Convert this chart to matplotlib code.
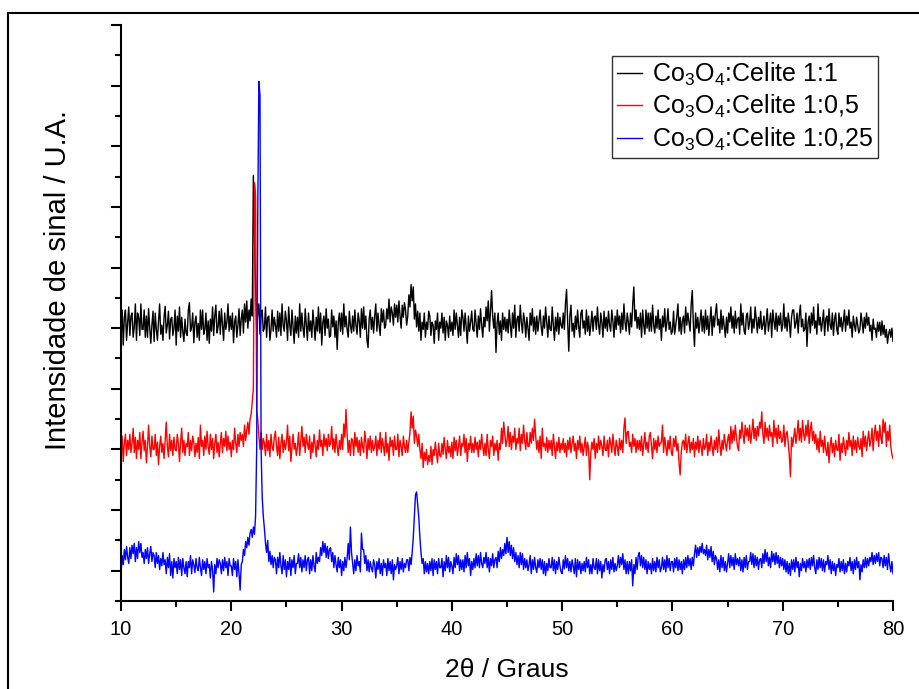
import matplotlib
matplotlib.use('Agg')
import matplotlib.pyplot as plt
from matplotlib.patches import Rectangle
from matplotlib.ticker import MultipleLocator
import numpy as np

plt.rcParams['font.family'] = ['Liberation Sans', 'DejaVu Sans']
plt.rcParams['mathtext.fontset'] = 'custom'
plt.rcParams['mathtext.rm'] = 'Liberation Sans'

# scan: 10 -> 80 degrees, step 0.1
start, stop, step = 10.0, 80.0, 0.1
two_theta = np.linspace(start, stop, int(round((stop - start) / step)) + 1)

# intensities (arbitrary units x100, curves already stacked)
# one row = one degree (10 points)
black = [
    395, 430, 372, 418, 430, 380, 410, 435, 388, 420,
    425, 385, 402, 440, 380, 425, 418, 388, 440, 398,
    398, 430, 385, 420, 385, 432, 400, 375, 405, 428,
    378, 425, 398, 380, 412, 440, 390, 405, 380, 418,
    436, 392, 405, 428, 382, 415, 418, 388, 400, 430,
    372, 420, 395, 435, 385, 418, 395, 378, 415, 392,
    388, 430, 442, 395, 402, 425, 376, 410, 420, 385,
    408, 380, 430, 398, 430, 390, 398, 425, 380, 412,
    375, 415, 395, 435, 388, 420, 438, 392, 402, 428,
    390, 432, 405, 380, 425, 398, 410, 440, 395, 420,
    398, 425, 376, 410, 420, 385, 405, 432, 388, 415,
    430, 392, 440, 410, 445, 400, 430, 412, 448, 420,
    652, 545, 470, 398, 425, 440, 390, 422, 430, 395,
    400, 435, 385, 418, 420, 380, 398, 430, 395, 418,
    405, 385, 428, 395, 425, 388, 440, 405, 395, 428,
    412, 380, 435, 405, 388, 430, 402, 375, 420, 392,
    418, 385, 440, 395, 425, 400, 385, 432, 405, 380,
    425, 395, 412, 385, 430, 405, 380, 418, 395, 435,
    392, 425, 372, 410, 420, 388, 432, 400, 415, 385,
    388, 430, 402, 420, 385, 412, 365, 410, 425, 395,
    425, 390, 440, 402, 420, 398, 385, 428, 405, 392,
    420, 395, 430, 405, 390, 425, 412, 385, 432, 400,
    435, 398, 420, 380, 368, 415, 430, 398, 418, 392,
    420, 440, 395, 425, 405, 388, 432, 410, 430, 400,
    405, 432, 415, 448, 410, 435, 425, 405, 440, 418,
    438, 410, 445, 420, 400, 438, 418, 442, 430, 405,
    420, 455, 435, 472, 445, 468, 415, 440, 402, 428,
    395, 425, 380, 410, 398, 425, 385, 410, 398, 428,
    420, 388, 410, 405, 375, 412, 398, 425, 380, 410,
    400, 425, 392, 418, 380, 412, 405, 385, 420, 395,
    410, 388, 430, 398, 425, 405, 385, 418, 388, 430,
    418, 395, 425, 402, 375, 420, 395, 410, 428, 398,
    395, 430, 408, 385, 420, 398, 432, 405, 385, 418,
    402, 435, 412, 445, 395, 430, 462, 420, 400, 425,
    360, 408, 425, 390, 412, 380, 425, 398, 418, 395,
    415, 392, 430, 405, 385, 425, 400, 438, 385, 415,
    420, 395, 438, 410, 392, 425, 412, 385, 418, 400,
    380, 425, 405, 432, 395, 418, 390, 420, 395, 412,
    430, 402, 388, 420, 400, 435, 410, 385, 420, 398,
    396, 435, 405, 380, 418, 395, 425, 390, 418, 405,
    400, 425, 398, 440, 464, 410, 362, 420, 438, 395,
    408, 385, 420, 398, 430, 402, 385, 425, 430, 400,
    412, 390, 430, 395, 420, 388, 405, 428, 395, 418,
    420, 398, 435, 405, 390, 425, 410, 385, 428, 400,
    418, 395, 428, 405, 395, 430, 412, 385, 420, 398,
    430, 405, 420, 392, 425, 398, 440, 410, 395, 425,
    410, 390, 425, 402, 440, 468, 412, 430, 400, 418,
    398, 425, 385, 430, 405, 390, 430, 400, 425, 395,
    425, 395, 438, 405, 392, 420, 400, 430, 398, 415,
    380, 420, 402, 432, 395, 410, 432, 398, 410, 390,
    395, 428, 390, 405, 420, 440, 395, 418, 390, 412,
    420, 392, 435, 405, 425, 410, 395, 440, 462, 405,
    370, 425, 400, 418, 392, 410, 430, 395, 420, 392,
    430, 398, 420, 388, 412, 435, 388, 420, 402, 425,
    440, 405, 415, 392, 430, 398, 420, 402, 385, 418,
    392, 425, 410, 435, 400, 420, 392, 428, 400, 415,
    418, 390, 440, 405, 425, 395, 390, 420, 425, 398,
    410, 435, 392, 415, 400, 435, 415, 392, 418, 400,
    428, 398, 405, 420, 390, 412, 432, 395, 410, 425,
    385, 430, 412, 398, 425, 395, 420, 405, 425, 395,
    405, 440, 400, 418, 395, 425, 410, 385, 418, 430,
    430, 400, 408, 425, 392, 420, 438, 402, 415, 395,
    398, 425, 370, 410, 420, 392, 425, 405, 435, 400,
    412, 390, 440, 405, 418, 395, 410, 430, 388, 415,
    420, 395, 432, 405, 398, 425, 388, 415, 425, 398,
    390, 425, 402, 418, 395, 410, 430, 395, 420, 405,
    430, 400, 410, 385, 420, 405, 395, 418, 405, 392,
    398, 425, 410, 392, 418, 400, 425, 405, 418, 395,
    405, 380, 415, 398, 400, 385, 410, 395, 410, 388,
    412, 390, 405, 385, 398, 375, 390, 398, 385, 400,
    378,
]

red = [
    195, 222, 180, 210, 225, 190, 215, 200, 225, 195,
    210, 235, 195, 220, 185, 215, 200, 228, 185, 212,
    230, 198, 215, 178, 205, 240, 205, 188, 222, 200,
    200, 225, 190, 212, 175, 205, 222, 195, 210, 185,
    215, 245, 205, 188, 225, 198, 215, 190, 220, 200,
    198, 225, 210, 180, 212, 235, 195, 215, 190, 210,
    205, 228, 190, 215, 198, 222, 212, 188, 210, 195,
    220, 185, 240, 205, 215, 190, 222, 200, 230, 205,
    192, 225, 200, 218, 185, 210, 225, 195, 212, 188,
    210, 228, 195, 218, 205, 230, 198, 222, 200, 212,
    188, 215, 200, 235, 210, 195, 225, 205, 228, 215,
    225, 205, 240, 215, 232, 245, 225, 250, 258, 280,
    300, 640, 618, 265, 250, 222, 200, 228, 200, 218,
    210, 190, 225, 198, 215, 188, 225, 205, 198, 220,
    230, 205, 190, 220, 185, 210, 225, 195, 215, 200,
    212, 240, 198, 222, 180, 205, 225, 200, 210, 190,
    205, 228, 190, 215, 238, 205, 220, 195, 225, 210,
    200, 222, 185, 212, 195, 225, 208, 188, 215, 200,
    232, 205, 215, 190, 225, 205, 218, 198, 225, 205,
    210, 238, 200, 218, 195, 225, 205, 190, 215, 200,
    225, 200, 242, 220, 266, 225, 195, 215, 190, 218,
    215, 190, 228, 205, 220, 195, 215, 190, 220, 205,
    195, 230, 212, 185, 218, 200, 222, 195, 215, 198,
    205, 222, 190, 215, 200, 228, 195, 218, 205, 190,
    228, 195, 210, 182, 220, 205, 215, 190, 222, 200,
    200, 225, 188, 215, 205, 190, 222, 205, 195, 215,
    195, 212, 228, 262, 235, 255, 210, 232, 222, 205,
    225, 200, 185, 210, 170, 195, 182, 200, 175, 190,
    180, 205, 175, 200, 190, 212, 195, 178, 210, 190,
    188, 210, 192, 220, 200, 185, 215, 195, 205, 188,
    212, 185, 220, 198, 215, 190, 205, 222, 190, 210,
    205, 225, 195, 218, 180, 210, 200, 222, 195, 210,
    195, 220, 200, 212, 188, 215, 200, 225, 205, 190,
    210, 190, 225, 200, 185, 215, 205, 222, 190, 210,
    198, 215, 182, 210, 200, 235, 210, 245, 225, 205,
    215, 238, 205, 228, 200, 222, 212, 235, 200, 218,
    210, 235, 198, 225, 210, 240, 215, 200, 228, 205,
    205, 228, 210, 235, 215, 250, 222, 200, 215, 195,
    222, 185, 235, 205, 210, 198, 220, 195, 215, 200,
    215, 190, 225, 205, 185, 212, 198, 220, 195, 210,
    200, 218, 195, 210, 188, 215, 200, 220, 195, 210,
    222, 198, 210, 185, 215, 200, 222, 195, 210, 190,
    205, 220, 190, 212, 200, 150, 195, 212, 200, 218,
    185, 210, 195, 222, 200, 215, 205, 190, 222, 200,
    198, 215, 188, 220, 210, 195, 225, 205, 190, 215,
    205, 190, 218, 200, 215, 195, 235, 252, 210, 228,
    230, 205, 212, 195, 225, 205, 218, 195, 215, 200,
    215, 198, 222, 190, 210, 228, 200, 212, 195, 222,
    228, 205, 185, 218, 200, 215, 195, 222, 205, 210,
    212, 240, 195, 220, 205, 190, 215, 200, 222, 195,
    190, 218, 205, 222, 198, 210, 178, 158, 195, 212,
    215, 200, 225, 195, 210, 222, 195, 212, 200, 218,
    188, 212, 200, 222, 195, 215, 205, 190, 218, 200,
    205, 225, 190, 212, 198, 222, 205, 190, 215, 200,
    220, 195, 232, 208, 190, 215, 200, 225, 210, 198,
    215, 225, 200, 238, 210, 232, 215, 240, 220, 205,
    198, 232, 218, 245, 225, 210, 240, 222, 235, 215,
    240, 210, 228, 250, 218, 235, 215, 238, 222, 245,
    235, 262, 225, 210, 245, 220, 235, 215, 240, 222,
    228, 205, 248, 220, 235, 210, 240, 218, 230, 212,
    215, 240, 205, 225, 230, 210, 190, 155, 220, 205,
    220, 235, 210, 225, 248, 215, 235, 212, 248, 225,
    215, 240, 222, 248, 210, 232, 245, 215, 230, 210,
    225, 200, 218, 195, 230, 205, 215, 195, 222, 200,
    190, 212, 178, 205, 220, 195, 210, 188, 215, 200,
    198, 225, 182, 210, 195, 220, 205, 190, 215, 200,
    228, 205, 215, 190, 222, 200, 215, 195, 220, 205,
    200, 218, 188, 230, 205, 222, 198, 215, 230, 205,
    215, 235, 198, 225, 240, 215, 230, 205, 240, 220,
    210, 250, 228, 245, 205, 230, 215, 240, 205, 192,
    185,
]

blue = [
    -5, 25, 10, 35, 18, 40, 22, 12, 38, 20,
    42, 28, 45, 15, 38, 20, 48, 30, 45, 22,
    30, 12, 35, 20, 38, 12, 28, 40, 15, 30,
    25, 5, 30, 12, 25, 2, 20, 8, 30, 10,
    18, -5, 22, 5, 28, -8, 15, -12, 20, 5,
    15, -5, 22, 2, 18, -8, 20, 5, -5, 15,
    -10, 15, 5, 25, -5, 18, 10, -3, 20, 5,
    0, 22, 5, -8, 18, 2, 15, -5, 20, 5,
    10, -12, 15, 2, -35, 10, -5, 20, 5, 18,
    12, -5, 18, 0, 22, 5, 15, -8, 20, 8,
    8, -8, 20, 2, 15, -10, 18, -5, -32, 10,
    15, 35, 25, 48, 38, 55, 42, 62, 68, 55,
    72, 60, 90, 200, 596, 807, 784, 200, 122, 90,
    70, 45, 30, 50, 15, 32, 10, 25, 5, 22,
    18, -5, 22, 5, 30, 8, -5, 25, 2, 18,
    -10, 15, 2, 22, -8, 18, 5, 25, -5, 12,
    12, 28, 5, 22, -2, 18, 5, 25, 0, 18,
    22, -5, 18, 0, 25, 8, -2, 30, 12, 22,
    15, 38, 25, 48, 30, 45, 22, 40, 20, 35,
    38, 15, 30, 5, 25, 10, -2, 22, 5, 18,
    -8, 15, 0, 22, 5, 20, 45, 18, 72, 30,
    12, -5, 18, 0, 25, 8, 15, -2, 62, 35,
    35, 12, 25, 0, 18, -2, 15, 5, -2, 18,
    10, -12, 15, 2, 20, -5, 12, -8, 18, 5,
    12, -8, 20, 0, 15, -5, 18, -15, 10, 2,
    8, 22, -5, 15, 2, 20, -2, 12, 5, 18,
    18, 0, 22, 10, 30, 55, 90, 125, 130, 110,
    88, 55, 30, 12, 20, -5, 15, -2, 12, -5,
    15, 0, 20, -8, 18, 2, 15, -5, 20, 5,
    5, 20, -10, 15, 0, 25, 5, 22, -2, 15,
    8, -5, 22, 5, 28, 10, 25, 0, 18, 2,
    18, -2, 25, 5, 30, 8, 20, -8, 15, 2,
    20, 5, 28, 8, 25, 5, 30, 12, 5, 22,
    12, 30, 5, 22, -2, 20, 8, 28, 5, 18,
    22, 5, 32, 15, 38, 20, 35, 25, 45, 28,
    55, 30, 48, 25, 42, 20, 38, 15, 30, 10,
    25, 5, 30, 10, 28, 2, 20, 5, 18, 0,
    10, 25, -5, 18, 2, 22, 5, -3, 18, 5,
    20, 2, 18, -5, 15, -8, 12, 0, 20, 5,
    5, 22, 0, 18, -5, 15, 2, 22, 8, -2,
    -5, 18, 3, 25, 5, 20, 0, 15, -2, 18,
    8, -5, 20, -10, 18, 2, 15, -5, 12, 0,
    15, -2, 22, 5, 18, -5, 10, -5, 20, 5,
    2, 20, -5, 18, 0, 15, -12, 10, -2, 18,
    20, 2, 15, -5, 18, 2, 22, -2, 12, 0,
    8, 25, 5, 22, 10, 28, 2, 18, -5, 15,
    -5, 15, 0, 18, -25, 10, -5, 22, 2, 25,
    30, 8, 25, 5, 22, 2, 18, -5, 15, 2,
    12, -5, 20, 0, 15, -2, 22, 5, 18, -2,
    5, 22, 2, 18, -2, 25, 5, 20, 0, 15,
    15, -2, 20, 5, 22, 0, 18, 2, 15, -5,
    18, 2, 22, 5, 25, 8, 20, 2, 22, 8,
    28, 42, 22, 38, 25, 40, 30, 45, 28, 35,
    25, 42, 18, 35, 22, 40, 15, 32, 10, 25,
    20, 2, 18, -2, 25, 5, 22, 0, 15, -2,
    12, 28, 5, 25, 8, 22, 2, 28, 10, 20,
    8, 22, 0, 18, -2, 22, 5, 25, 2, 15,
    15, 30, 10, 28, 5, 25, 8, 22, 2, 18,
    20, 5, 28, 12, 35, 15, 30, 8, 22, 5,
    32, 15, 28, 10, 30, 12, 25, 5, 22, 8,
    20, 2, 18, -2, 15, -5, 12, -8, 18, 2,
    18, -2, 22, 5, 15, -10, 12, 0, 20, 5,
    15, -2, 18, 5, 20, 2, 22, 8, 25, 5,
    -5, 18, 2, 22, 5, 20, 0, 18, -2, 15,
    10, 25, 2, 18, -5, 15, 0, 12, -8, 10,
    5, 20, -2, 15, 0, 18, -5, 12, -2, 15,
    8, 22, 0, 15, -5, 18, 2, 22, 5, 15,
    -15, 10, -2, 18, 5, 22, 5, 20, 8, 22,
    15, 30, 10, 25, 12, 28, 15, 30, 8, 22,
    20, 5, 25, 8, 22, 2, 28, 10, -2, 15,
    -5,
]

labels = [r'Co$_\mathregular{3}$O$_\mathregular{4}$:Celite 1:1',
          r'Co$_\mathregular{3}$O$_\mathregular{4}$:Celite 1:0,5',
          r'Co$_\mathregular{3}$O$_\mathregular{4}$:Celite 1:0,25']
colors = ['#000000', '#ff0000', '#0000ff']

fig = plt.figure(figsize=(9.19, 6.89), dpi=100)
ax = fig.add_axes([0.1317, 0.1277, 0.840, 0.836])

for vals, lab, c in zip([black, red, blue], labels, colors):
    ax.plot(two_theta, np.array(vals) / 100.0, color=c, lw=1.0, label=lab)

ax.set_xlim(10, 80)
ax.set_ylim(-0.5, 9)
ax.xaxis.set_major_locator(MultipleLocator(10))
ax.xaxis.set_minor_locator(MultipleLocator(5))
ax.yaxis.set_major_locator(MultipleLocator(1))
ax.yaxis.set_minor_locator(MultipleLocator(0.5))
ax.tick_params(which='both', direction='out', width=1.5, labelsize=14.5)
ax.tick_params(which='major', length=7.5, pad=6)
ax.tick_params(which='minor', length=4.5)
ax.tick_params(axis='y', labelleft=False)

for s in ['top', 'right']:
    ax.spines[s].set_visible(False)
for s in ['left', 'bottom']:
    ax.spines[s].set_linewidth(1.5)

ax.set_xlabel(u'2\u03b8 / Graus', fontsize=19, labelpad=14)
ax.set_ylabel('Intensidade de sinal / U.A.', fontsize=21)
ax.yaxis.set_label_coords(-0.064, 0.557)

leg = ax.legend(loc='upper right', bbox_to_anchor=(878 / 919, 1 - 56 / 689),
                bbox_transform=fig.transFigure, fontsize=18, frameon=True,
                fancybox=False, edgecolor='black', handlelength=1.0,
                handletextpad=0.4, borderpad=0.2, labelspacing=0.2,
                borderaxespad=0)
leg.get_frame().set_linewidth(1.0)

# frame around the whole picture (cut at right and bottom)
fig.patches.append(Rectangle((8 / 919, -0.5), 1.5, 1 - 13 / 689 + 0.5,
                             transform=fig.transFigure, fill=False,
                             lw=1.5, edgecolor='black'))

fig.savefig('out.png', dpi=100)
